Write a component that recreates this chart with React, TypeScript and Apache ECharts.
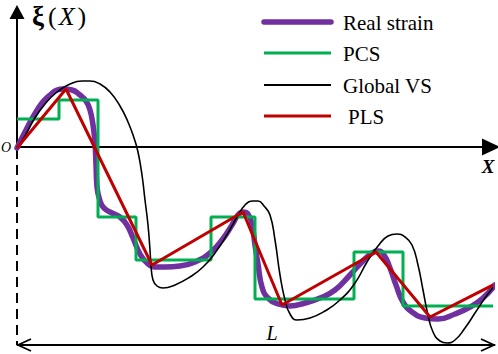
import React, { useEffect, useRef } from "react";
import * as echarts from "echarts";

const realStrain: [number, number][] = [
  [0, -1], [8, 15], [16, 30], [25, 44], [33, 52], [40, 57], [46, 58], [55, 57], [63, 52],
  [69, 46], [73, 37], [76, 22], [78, 4], [79, -18], [80, -40], [83, -54], [87, -61],
  [95, -66], [103, -70], [110, -78], [116, -91], [123, -107], [130, -116], [138, -120],
  [148, -120], [163, -119], [178, -115], [193, -106], [205, -93], [215, -78], [221, -68],
  [226, -65], [231, -67], [235, -78], [238, -98], [241, -117], [245, -140], [251, -151],
  [261, -157], [273, -159], [288, -156], [303, -151], [318, -143], [333, -128], [345, -115],
  [355, -106], [361, -104], [367, -108], [373, -121], [379, -138], [386, -155], [395, -165],
  [408, -171], [421, -172], [438, -167], [453, -160], [466, -151], [478, -138],
];

const pcsX = [0, 42, 81, 119, 194, 238, 337, 386, 479];
const pcsY = [28, 47, -70, -113, -70, -152, -105, -159, -139];

const globalVS: [number, number][] = [
  [0, -1], [8, 11], [16, 26], [28, 43], [40, 55], [53, 63], [65, 66], [73, 66], [83, 63],
  [93, 55], [103, 41], [111, 25], [117, 9], [121, -5], [125, -28], [128, -53], [131, -78],
  [133, -103], [134, -118], [136, -133], [140, -139], [146, -141], [158, -138], [173, -130],
  [186, -120], [198, -106], [211, -86], [220, -70], [228, -58], [235, -54], [241, -54],
  [247, -59], [253, -68], [258, -93], [263, -128], [268, -153], [273, -167], [280, -173],
  [293, -171], [308, -164], [323, -153], [338, -136], [350, -115], [361, -99], [371, -89],
  [380, -87], [388, -90], [395, -98], [401, -118], [406, -143], [411, -168], [416, -185],
  [423, -194], [430, -196], [438, -193], [448, -181], [458, -166], [468, -151], [478, -138],
];

const plsX = [0, 49, 135, 226, 265, 359, 413, 478];
const plsY = [-1, 58, -118, -65, -158, -105, -170, -137];

const legendNames = ["Real strain", "PCS", "Global VS", "PLS"];
const seriesColors = ["#7030A0", "#00B050", "#000000", "#C00000"];
const seriesWidths = [5.5, 3, 1.6, 3];
const L_END = 478;
const DIM_Y = -198;

const F = "'Times New Roman', 'Liberation Serif', serif";

export default function App() {
  const ref = useRef<HTMLDivElement>(null);
  useEffect(() => {
    if (!ref.current) return;
    const chart = echarts.init(ref.current, null, { renderer: "svg" });
    const option: any = {
      animation: false,
      backgroundColor: "#fff",
      grid: { left: 17, right: 7, top: 12, bottom: 207, containLabel: false },
      xAxis: {
        type: "value",
        min: 0,
        max: 474,
        axisLine: {
          onZero: true,
          symbol: ["none", "triangle"],
          symbolSize: [17, 18],
          lineStyle: { color: "#000", width: 2 },
        },
        axisTick: { show: false },
        axisLabel: { show: false },
        splitLine: { show: false },
      },
      yAxis: {
        type: "value",
        min: 0,
        max: 135,
        axisLine: {
          onZero: false,
          symbol: ["none", "triangle"],
          symbolSize: [15, 14],
          lineStyle: { color: "#000", width: 2 },
        },
        axisTick: { show: false },
        axisLabel: { show: false },
        splitLine: { show: false },
      },
      series: [
        {
          name: legendNames[0],
          type: "line",
          data: realStrain,
          smooth: 0.5,
          showSymbol: false,
          symbol: "none",
          clip: false,
          z: 2,
          lineStyle: { color: seriesColors[0], width: seriesWidths[0], cap: "round", join: "round" },
        },
        {
          name: legendNames[1],
          type: "line",
          data: pcsX.map((x, i) => [x, pcsY[i]]),
          step: "end",
          showSymbol: false,
          symbol: "none",
          clip: false,
          z: 3,
          lineStyle: { color: seriesColors[1], width: seriesWidths[1] },
        },
        {
          name: legendNames[2],
          type: "line",
          data: globalVS,
          smooth: 0.5,
          showSymbol: false,
          symbol: "none",
          clip: false,
          z: 4,
          lineStyle: { color: seriesColors[2], width: seriesWidths[2] },
        },
        {
          name: legendNames[3],
          type: "line",
          data: plsX.map((x, i) => [x, plsY[i]]),
          showSymbol: false,
          symbol: "none",
          clip: false,
          z: 5,
          lineStyle: { color: seriesColors[3], width: seriesWidths[3] },
        },
      ],
    };
    chart.setOption(option);

    const P = (x: number, y: number) => chart.convertToPixel({ gridIndex: 0 }, [x, y]) as number[];
    const o = P(0, 0);
    const d0 = P(0, DIM_Y);
    const d1 = P(L_END, DIM_Y);
    const xEnd = P(474, 0);
    const lMid = P(255, DIM_Y);

    // legend drawn as graphic (line sample + text)
    const legendRows = [22, 53, 85, 116];
    const legendGraphics: any[] = [];
    legendNames.forEach((n, i) => {
      legendGraphics.push({
        type: "line",
        shape: { x1: 264, y1: legendRows[i], x2: 331, y2: legendRows[i] },
        style: {
          stroke: seriesColors[i],
          lineWidth: i === 2 ? 2.2 : seriesWidths[i],
          lineCap: i === 0 ? "round" : "butt",
        },
      });
      legendGraphics.push({
        type: "text",
        x: n === "PLS" ? 348 : 343,
        y: legendRows[i] + 1,
        style: {
          text: n,
          font: `21px ${F}`,
          fill: "#000",
          align: "left",
          verticalAlign: "middle",
        },
      });
    });

    chart.setOption({
      graphic: [
        ...legendGraphics,
        {
          type: "line",
          shape: { x1: o[0], y1: o[1] + 2, x2: d0[0], y2: d0[1] },
          style: { stroke: "#000", lineWidth: 2, lineDash: [10, 6] },
          z: 1,
        },
        {
          type: "line",
          shape: { x1: d0[0], y1: d0[1], x2: d1[0], y2: d1[1] },
          style: { stroke: "#000", lineWidth: 2 },
        },
        {
          type: "polyline",
          shape: { points: [[d0[0] + 14, d0[1] - 6], [d0[0] + 1, d0[1]], [d0[0] + 14, d0[1] + 6]] },
          style: { stroke: "#000", lineWidth: 1.8, fill: "none" },
        },
        {
          type: "polyline",
          shape: { points: [[d1[0] - 14, d1[1] - 6], [d1[0] - 1, d1[1]], [d1[0] - 14, d1[1] + 6]] },
          style: { stroke: "#000", lineWidth: 1.8, fill: "none" },
        },
        {
          type: "text",
          x: o[0] - 6,
          y: o[1],
          style: {
            text: "O",
            font: `italic 14px ${F}`,
            fill: "#000",
            align: "right",
            verticalAlign: "middle",
          },
        },
        {
          type: "text",
          x: xEnd[0] - 3,
          y: xEnd[1] + 19,
          style: {
            text: "X",
            font: `italic bold 19px ${F}`,
            fill: "#000",
            align: "center",
            verticalAlign: "middle",
          },
        },
        {
          type: "text",
          x: o[0] + 15,
          y: 16,
          style: {
            text: "{a|ξ}{b|(}{c|X}{d|)}",
            verticalAlign: "middle",
            rich: {
              a: { font: `bold 27px ${F}`, fill: "#000" },
              b: { font: `26px ${F}`, fill: "#000", padding: [0, 0, 0, 4] },
              c: { font: `italic 26px ${F}`, fill: "#000", padding: [0, 3, 0, 2] },
              d: { font: `26px ${F}`, fill: "#000" },
            },
          },
        },
        {
          type: "text",
          x: lMid[0],
          y: lMid[1] - 12,
          style: {
            text: "L",
            font: `italic 20px ${F}`,
            fill: "#000",
            align: "center",
            verticalAlign: "middle",
          },
        },
      ],
    });

    return () => chart.dispose();
  }, []);
  return (
    <div
      ref={ref}
      style={{ position: "fixed", left: 0, top: 0, width: 498, height: 354 }}
    />
  );
}
